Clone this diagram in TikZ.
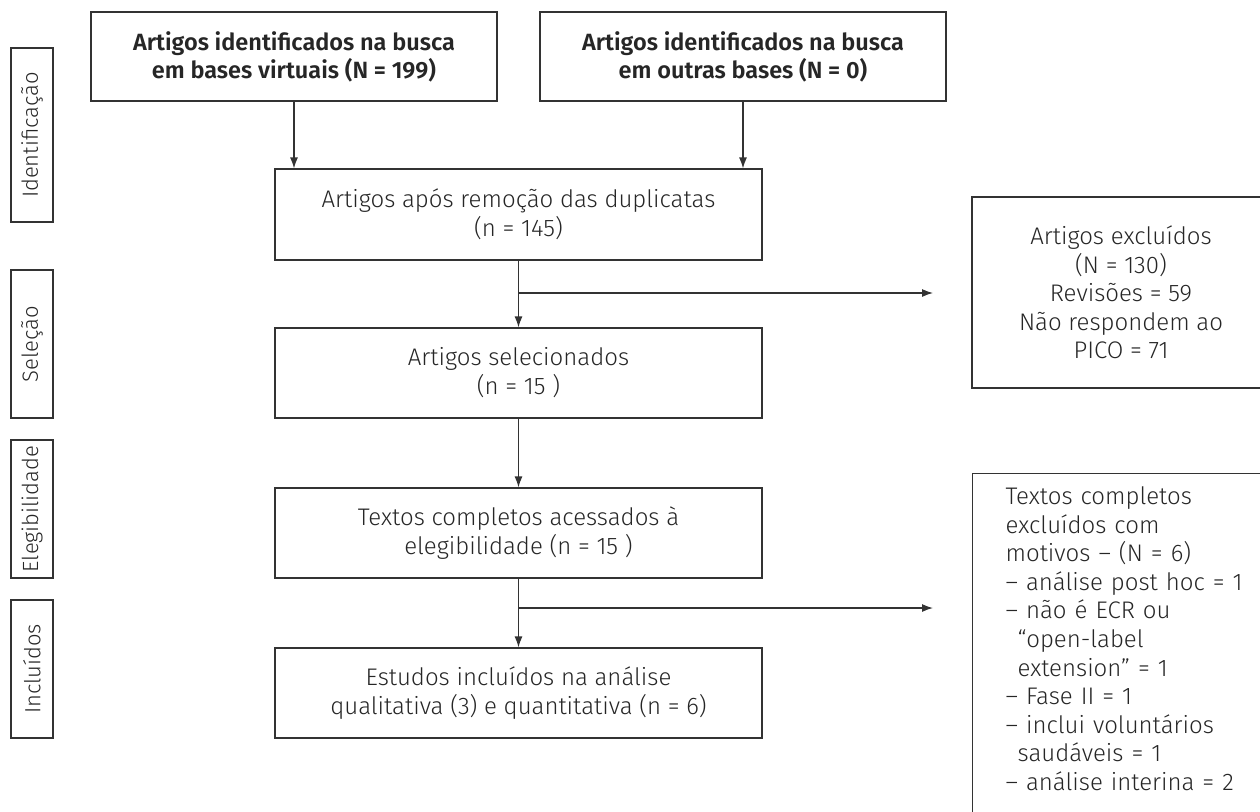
\documentclass[tikz,border=0pt]{standalone}
\usepackage{fontspec}
\setmainfont{Fira Sans}[UprightFont=* Light, BoldFont=* SemiBold]
\usetikzlibrary{arrows.meta}
\definecolor{lncol}{HTML}{333333}
\definecolor{txcol}{HTML}{262626}
\begin{document}
\begin{tikzpicture}[x=1pt,y=-1pt,
 box/.style={draw=lncol, line width=1.2pt, text=txcol, align=center, inner sep=0pt, minimum height=90pt},
 midbox/.style={box, minimum width=487pt, font=\fontsize{24}{29}\selectfont},
 topbox/.style={box, minimum width=406pt, minimum height=89pt, font=\fontsize{23.5}{28}\selectfont\bfseries},
 stagebox/.style={draw=lncol, line width=1.2pt, text=txcol, minimum height=42pt, rotate=90, font=\fontsize{22}{26}\selectfont, inner sep=0pt},
 arr/.style={draw=lncol, line width=1.2pt, -{Latex[length=11pt,width=8pt]}},
 plain/.style={draw=lncol, line width=1.2pt}
]
\useasboundingbox (0,0) rectangle (1260,811);

% stage labels
\node[stagebox, minimum width=174pt] (s1) at (32,135) {Identificação};
\node[stagebox, minimum width=148pt] (s2) at (32,344) {Seleção};
\node[stagebox, minimum width=138pt] (s3) at (32,509) {Elegibilidade};
\node[stagebox, minimum width=138pt] (s4) at (32,669) {Incluídos};

% main boxes
\node[topbox] (A) at (294,56.5) {Artigos identificados na busca\\em bases virtuais (N = 199)};
\node[topbox] (B) at (743,56.5) {Artigos identificados na busca\\em outras bases (N = 0)};
\node[midbox, minimum height=91pt] (C) at (518.5,214.5) {Artigos após remoção das duplicatas\\(n = 145)};
\node[midbox] (Sel) at (518.5,373) {Artigos selecionados\\(n = 15 )};
\node[midbox] (Tex) at (518.5,533) {Textos completos acessados à\\elegibilidade (n = 15 )};
\node[midbox] (Est) at (518.5,693) {Estudos incluídos na análise\\qualitativa (3) e quantitativa (n = 6)};

% exclusion boxes
\node[box, minimum width=298pt, minimum height=191pt, font=\fontsize{24}{28.6}\selectfont] (E1) at (1121,292.5) {Artigos excluídos\\(N = 130)\\Revisões = 59\\Não respondem ao\\PICO = 71};
\node[draw=lncol, line width=1.2pt, text=txcol, anchor=north west, align=left, text width=250pt, inner xsep=33pt, inner ysep=13pt, font=\fontsize{24}{28.6}\selectfont] (E2) at (972,473) {Textos completos\\
excluídos com\\
motivos – (N = 6)\\
– análise post hoc = 1\\
– não é ECR ou\\
\hspace*{12pt}“open-label\\
\hspace*{12pt}extension” = 1\\
– Fase II = 1\\
– inclui voluntários\\
\hspace*{12pt}saudáveis = 1\\
– análise interina = 2\\[30pt]\mbox{}};

% connectors
\draw[arr] (A.south) -- (A.south |- C.north);
\draw[arr] (B.south) -- (B.south |- C.north);
\draw[arr] (C.south) -- (Sel.north);
\coordinate (t1) at (933,293);
\draw[arr] (C.south |- t1) -- (t1);
\draw[arr] (Sel.south) -- (Tex.north);
\draw[arr] (Tex.south) -- (Est.north);
\coordinate (t2) at (933,608);
\draw[arr] (Tex.south |- t2) -- (t2);
\end{tikzpicture}
\end{document}
